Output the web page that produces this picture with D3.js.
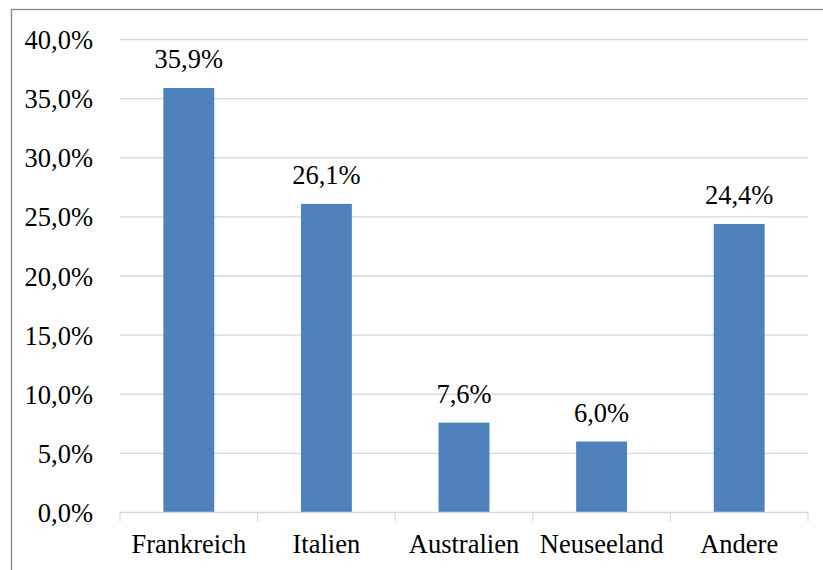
<!DOCTYPE html>
<html>
<head>
<meta charset="utf-8">
<script src="https://cdn.jsdelivr.net/npm/d3@7"></script>
<style>
  html, body { margin: 0; padding: 0; background: #fff; }
  svg { display: block; }
  svg text { font-family: "Liberation Serif", "Times New Roman", serif; font-size: 26.5px; fill: #000; }
</style>
</head>
<body>
<svg id="chart" width="823" height="570"></svg>
<script>
// Anteile nach Herkunftsland
const categories = ["Frankreich", "Italien", "Australien", "Neuseeland", "Andere"];
const shares = [35.9, 26.1, 7.6, 6.0, 24.4];
const yTicks = [0, 5, 10, 15, 20, 25, 30, 35, 40];

const W = 823, H = 570;
const margin = { left: 120, right: 15, top: 39.5, bottom: 57.5 };
const fmt = v => v.toFixed(1).replace(".", ",") + "%";

const svg = d3.select("#chart");

// outer frame (runs off the right and bottom edges)
svg.append("rect")
  .attr("x", 11.5).attr("y", 9.5)
  .attr("width", W + 20).attr("height", H + 20)
  .attr("fill", "none").attr("stroke", "#868686").attr("stroke-width", 1.3);

const x = d3.scaleBand()
  .domain(categories)
  .range([margin.left, W - margin.right])
  .paddingInner(0.63).paddingOuter(0.315);

const y = d3.scaleLinear()
  .domain([0, 40])
  .range([H - margin.bottom, margin.top]);

// gridlines
svg.append("g")
  .selectAll("line")
  .data(yTicks.filter(t => t > 0))
  .join("line")
  .attr("x1", margin.left).attr("x2", W - margin.right)
  .attr("y1", d => y(d)).attr("y2", d => y(d))
  .attr("stroke", "#d9d9d9").attr("stroke-width", 1.3);

// y axis labels
const yAxis = d3.axisLeft(y).tickValues(yTicks).tickFormat(fmt).tickSize(0).tickPadding(27);
const gy = svg.append("g").attr("transform", `translate(${margin.left},0)`).call(yAxis);
gy.attr("font-family", null).attr("font-size", null);
gy.select(".domain").remove();
gy.selectAll("text").attr("fill", null).attr("dy", "0.34em");

// bars
svg.append("g")
  .selectAll("rect")
  .data(categories)
  .join("rect")
  .attr("x", d => x(d))
  .attr("width", x.bandwidth())
  .attr("y", (d, i) => y(shares[i]))
  .attr("height", (d, i) => y(0) - y(shares[i]))
  .attr("fill", "#4f81bd");

// value labels
svg.append("g")
  .selectAll("text")
  .data(categories)
  .join("text")
  .attr("x", d => x(d) + x.bandwidth() / 2)
  .attr("y", (d, i) => y(shares[i]) - 20)
  .attr("text-anchor", "middle")
  .text((d, i) => fmt(shares[i]));

// category axis with boundary ticks
const y0 = y(0);
const step = x.step();
const edges = d3.range(categories.length + 1).map(i => margin.left + i * step);
const gx = svg.append("g");
gx.append("line")
  .attr("x1", margin.left).attr("x2", W - margin.right)
  .attr("y1", y0).attr("y2", y0)
  .attr("stroke", "#d9d9d9").attr("stroke-width", 1.3);
gx.selectAll("line.tick")
  .data(edges)
  .join("line")
  .attr("class", "tick")
  .attr("x1", d => d).attr("x2", d => d)
  .attr("y1", y0).attr("y2", y0 + 9)
  .attr("stroke", "#d9d9d9").attr("stroke-width", 1.3);
gx.selectAll("text")
  .data(categories)
  .join("text")
  .attr("x", d => x(d) + x.bandwidth() / 2)
  .attr("y", y0 + 40)
  .attr("text-anchor", "middle")
  .text(d => d);
</script>
</body>
</html>
